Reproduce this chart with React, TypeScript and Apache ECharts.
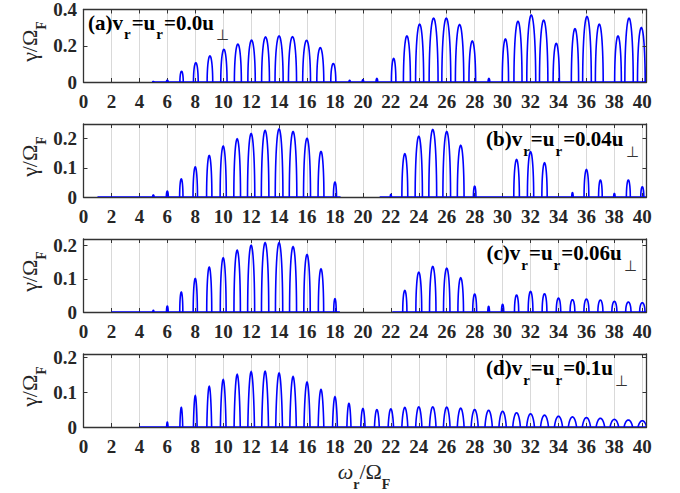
import React, { useEffect, useRef } from 'react';
import * as echarts from 'echarts';

// Frequency axis: ω_r/Ω_F from 0 to just past the 40th harmonic
const X_MAX = 40.3;
const X_STEP = 2;

// Harmonic numbers used as peak centres in panels (b)–(d)
const harmonics = [
  0, 1, 2, 3, 4, 5, 6, 7, 8, 9, 10, 11, 12, 13, 14, 15, 16, 17, 18, 19, 20,
  21, 22, 23, 24, 25, 26, 27, 28, 29, 30, 31, 32, 33, 34, 35, 36, 37, 38, 39, 40,
];

// (a) v_r = u_r = 0.0 u_perp : peak centres, growth-rate maxima and band widths
const centersA = [
  0, 1, 2, 3, 4, 5, 6, 7.02, 8.04, 9.05, 10.05, 11.05, 12.03, 13.03, 14, 14.96,
  15.97, 16.95, 17.88, 19.05, 20, 21, 22.2, 23.15, 24.06, 25.06, 25.97, 26.92,
  27.83, 29.02, 30.2, 31.1, 32.05, 32.94, 33.84, 35.18, 36.04, 36.92, 38.26,
  39.05, 39.93, 40.5,
];
const heightsA = [
  0, 0, 0, 0, 0, 0.003, 0.01, 0.059, 0.106, 0.144, 0.18, 0.209, 0.231, 0.248,
  0.254, 0.25, 0.23, 0.189, 0.102, 0.009, 0.013, 0.02, 0.13, 0.254, 0.319,
  0.352, 0.352, 0.317, 0.226, 0.02, 0.237, 0.335, 0.369, 0.341, 0.213, 0.294,
  0.361, 0.319, 0.254, 0.352, 0.3, 0.13,
];
const widthsA = [
  0, 0, 0, 0, 0, 0.08, 0.12, 0.24, 0.34, 0.4, 0.45, 0.5, 0.53, 0.56, 0.58,
  0.58, 0.56, 0.5, 0.36, 0.1, 0.1, 0.12, 0.32, 0.5, 0.58, 0.64, 0.64, 0.6,
  0.48, 0.12, 0.45, 0.58, 0.64, 0.6, 0.45, 0.52, 0.62, 0.56, 0.48, 0.6, 0.55,
  0.5,
];
const baselineA = [[4.9, 40.3]];

// (b) v_r = u_r = 0.04 u_perp
const heightsB = [
  0, 0, 0, 0, 0, 0.007, 0.02, 0.062, 0.103, 0.142, 0.174, 0.199, 0.217, 0.228,
  0.233, 0.224, 0.201, 0.156, 0.051, 0, 0, 0, 0.009, 0.148, 0.208, 0.231,
  0.224, 0.177, 0.037, 0, 0, 0.128, 0.155, 0.117, 0, 0.015, 0.094, 0.058,
  0.012, 0.058, 0.035,
];
const widthsB = [
  0, 0, 0, 0, 0, 0.1, 0.14, 0.24, 0.32, 0.38, 0.44, 0.48, 0.52, 0.54, 0.55,
  0.54, 0.5, 0.42, 0.22, 0, 0, 0, 0.08, 0.42, 0.52, 0.56, 0.55, 0.48, 0.18, 0,
  0, 0.4, 0.45, 0.38, 0, 0.1, 0.34, 0.26, 0.1, 0.28, 0.22,
];
const baselineB = [[1, 18.4], [21.2, 40.3]];

// (c) v_r = u_r = 0.06 u_perp
const heightsC = [
  0, 0, 0, 0, 0, 0.005, 0.018, 0.06, 0.101, 0.135, 0.163, 0.186, 0.201, 0.209,
  0.209, 0.197, 0.173, 0.13, 0.04, 0, 0, 0, 0, 0.065, 0.12, 0.137, 0.132,
  0.103, 0.054, 0.017, 0.023, 0.051, 0.062, 0.055, 0.042, 0.037, 0.039, 0.036,
  0.032, 0.03, 0.028,
];
const widthsC = [
  0, 0, 0, 0, 0, 0.08, 0.12, 0.22, 0.3, 0.36, 0.42, 0.46, 0.5, 0.52, 0.52, 0.5,
  0.46, 0.38, 0.18, 0, 0, 0, 0, 0.3, 0.42, 0.46, 0.46, 0.4, 0.28, 0.12, 0.16,
  0.3, 0.34, 0.34, 0.32, 0.34, 0.36, 0.36, 0.36, 0.38, 0.38,
];
const baselineC = [[2, 18.35], [22.1, 40.3]];

// (d) v_r = u_r = 0.1 u_perp
const heightsD = [
  0, 0, 0, 0, 0, 0, 0.014, 0.056, 0.09, 0.117, 0.136, 0.151, 0.159, 0.16,
  0.155, 0.145, 0.129, 0.108, 0.087, 0.068, 0.053, 0.05, 0.052, 0.056, 0.058,
  0.058, 0.057, 0.054, 0.05, 0.048, 0.045, 0.041, 0.038, 0.034, 0.031, 0.029,
  0.027, 0.025, 0.022, 0.02, 0.018,
];
const widthsD = [
  0, 0, 0, 0, 0, 0, 0.1, 0.2, 0.26, 0.34, 0.4, 0.44, 0.47, 0.48, 0.48, 0.46,
  0.43, 0.4, 0.34, 0.29, 0.3, 0.34, 0.38, 0.42, 0.44, 0.46, 0.47, 0.48, 0.5,
  0.52, 0.52, 0.54, 0.55, 0.56, 0.57, 0.58, 0.58, 0.6, 0.6, 0.6, 0.6,
];
const baselineD = [[4, 40.3]];

// Vertical ranges and tick steps of the four panels
const yMaxes = [0.4, 0.25, 0.22, 0.21];
const ySteps = [0.2, 0.1, 0.1, 0.1];
const panelTags = ['(a)', '(b)', '(c)', '(d)'];
const speedValues = ['0.0', '0.04', '0.06', '0.1'];

const FONT = "'Liberation Serif', 'Times New Roman', serif";
const BLUE = '#0000ff';
const FRAME = '#333333';
const TEXT = '#262626';
const LINE_W = 1.6;

const GRID_LEFT = 83.5;
const GRID_WIDTH = 563;
const GRID_HEIGHT = 73;
const GRID_TOPS = [9, 124, 239, 354];
const SHAPE_POW = [0.5, 0.5, 0.5, 0.75];

const panels = [
  { centers: centersA, heights: heightsA, widths: widthsA, baseline: baselineA },
  { centers: harmonics, heights: heightsB, widths: widthsB, baseline: baselineB },
  { centers: harmonics, heights: heightsC, widths: widthsC, baseline: baselineC },
  { centers: harmonics, heights: heightsD, widths: widthsD, baseline: baselineD },
];

// Annotation placement: left edge and top of the main text line
const tagPos = [
  [88, 12],
  [486, 128.5],
  [486.5, 242.5],
  [486, 357.5],
];

const humpRenderer = (pow: number) => (_params: any, api: any) => {
  const c = api.value(0);
  const h = api.value(1);
  const w = api.value(2);
  const pts: number[][] = [];
  const N = 28;
  for (let i = 0; i <= N; i++) {
    const u = -Math.cos((Math.PI * i) / N);
    const y = h * Math.pow(Math.max(0, 1 - u * u), pow);
    pts.push(api.coord([c + (u * w) / 2, y]));
  }
  return {
    type: 'polyline',
    shape: { points: pts },
    style: { stroke: BLUE, lineWidth: LINE_W, fill: 'none' },
  };
};

const baselineRenderer = (_params: any, api: any) => {
  const a = api.coord([api.value(0), 0]);
  const b = api.coord([api.value(1), 0]);
  return {
    type: 'line',
    shape: { x1: a[0], y1: a[1], x2: b[0], y2: b[1] },
    style: { stroke: BLUE, lineWidth: LINE_W },
  };
};

const isMultiple = (v: number, step: number) =>
  Math.abs(v / step - Math.round(v / step)) < 1e-6;

function buildOption() {
  const grid = GRID_TOPS.map((top) => ({
    left: GRID_LEFT,
    width: GRID_WIDTH,
    top,
    height: GRID_HEIGHT,
  }));

  const axisLine = { show: true, onZero: false, lineStyle: { color: FRAME, width: 1.3 } };
  const axisTick = { show: true, inside: true, length: 4, lineStyle: { color: FRAME, width: 1 } };

  const xAxis: any[] = [];
  const yAxis: any[] = [];
  const series: any[] = [];

  panels.forEach((p, i) => {
    xAxis.push({
      gridIndex: i,
      type: 'value',
      min: 0,
      max: X_MAX,
      interval: X_STEP,
      position: 'bottom',
      axisLine,
      axisTick,
      axisLabel: {
        margin: 10,
        fontFamily: FONT,
        fontWeight: 'bold',
        fontSize: 19,
        color: TEXT,
        formatter: (v: number) => (isMultiple(v, X_STEP) ? String(Math.round(v)) : ''),
      },
      splitLine: { show: true, lineStyle: { color: '#d9d9d9', width: 1 } },
      z: 1,
    });
    xAxis.push({
      gridIndex: i,
      type: 'value',
      min: 0,
      max: X_MAX,
      interval: X_STEP,
      position: 'top',
      axisLine,
      axisTick,
      axisLabel: { show: false },
      splitLine: { show: false },
      z: 1,
    });
    const step = ySteps[i];
    yAxis.push({
      gridIndex: i,
      type: 'value',
      min: 0,
      max: yMaxes[i],
      interval: step,
      position: 'left',
      axisLine,
      axisTick,
      axisLabel: {
        margin: 6.5,
        fontFamily: FONT,
        fontWeight: 'bold',
        fontSize: 19,
        color: TEXT,
        formatter: (v: number) => (isMultiple(v, step) ? String(+v.toFixed(2)) : ''),
      },
      splitLine: { show: false },
      z: 3,
    });
    yAxis.push({
      gridIndex: i,
      type: 'value',
      min: 0,
      max: yMaxes[i],
      interval: step,
      position: 'right',
      axisLine,
      axisTick,
      axisLabel: { show: false },
      splitLine: { show: false },
      z: 3,
    });

    series.push({
      type: 'custom',
      xAxisIndex: 2 * i,
      yAxisIndex: 2 * i,
      clip: true,
      z: 2,
      encode: { x: [0, 1], y: 2 },
      data: p.baseline.map(([s, e]) => [s, e, 0]),
      renderItem: baselineRenderer,
    });

    const humps: number[][] = [];
    p.heights.forEach((h, k) => {
      if (h > 0) humps.push([p.centers[k], h, p.widths[k]]);
    });
    series.push({
      type: 'custom',
      xAxisIndex: 2 * i,
      yAxisIndex: 2 * i,
      clip: true,
      z: 2,
      encode: { x: 0, y: 1 },
      data: humps,
      renderItem: humpRenderer(SHAPE_POW[i]),
    });
  });

  const tok = (size: number, weight: string, extra: any = {}) => ({
    fontFamily: FONT,
    fontSize: size,
    fontWeight: weight,
    fill: '#000',
    verticalAlign: 'top',
    lineHeight: size,
    ...extra,
  });

  const graphic: any[] = [];

  // Panel annotations: (x)v_r=u_r=...u_⊥
  panelTags.forEach((tag, i) => {
    graphic.push({
      type: 'text',
      x: tagPos[i][0],
      y: tagPos[i][1],
      z: 10,
      style: {
        text: `{m|${tag}v}{s|r}{m|=u}{s|r}{m|=${speedValues[i]}u}{p|⊥}`,
        align: 'left',
        verticalAlign: 'top',
        rich: {
          m: tok(21, 'bold'),
          s: tok(15, 'bold', { padding: [14.6, 1, 0, 1] }),
          p: tok(15, 'normal', { padding: [15.5, 0, 0, 2], fill: '#333' }),
        },
      },
    });
  });

  // Vertical axis titles γ/Ω_F
  GRID_TOPS.forEach((top) => {
    graphic.push({
      type: 'text',
      x: 18,
      y: top + GRID_HEIGHT / 2 - 4,
      rotation: Math.PI / 2,
      z: 10,
      style: {
        text: '{g|γ/Ω}{s|F}',
        align: 'center',
        verticalAlign: 'top',
        rich: {
          g: tok(22, 'normal', { fill: TEXT }),
          s: tok(14, 'bold', { fill: TEXT, padding: [16.5, 0, 0, 0] }),
        },
      },
    });
  });

  // Horizontal axis title ω_r/Ω_F
  graphic.push({
    type: 'text',
    x: 364,
    y: 460.5,
    z: 10,
    style: {
      text: '{w|ω}{s|r}{g|/Ω}{s|F}',
      align: 'center',
      verticalAlign: 'top',
      rich: {
        w: tok(22, 'normal', { fill: TEXT, fontStyle: 'italic' }),
        g: tok(22, 'normal', { fill: TEXT }),
        s: tok(14, 'bold', { fill: TEXT, padding: [16.5, 0, 0, 0] }),
      },
    },
  });

  return {
    animation: false,
    backgroundColor: '#ffffff',
    grid,
    xAxis,
    yAxis,
    series,
    graphic,
  };
}

export default function App() {
  const ref = useRef<HTMLDivElement>(null);

  useEffect(() => {
    if (!ref.current) return;
    const chart = echarts.init(ref.current, undefined, { renderer: 'svg' });
    chart.setOption(buildOption() as any);
    return () => chart.dispose();
  }, []);

  return (
    <div
      ref={ref}
      style={{ position: 'absolute', left: 0, top: 0, width: 680, height: 493, background: '#fff' }}
    />
  );
}
